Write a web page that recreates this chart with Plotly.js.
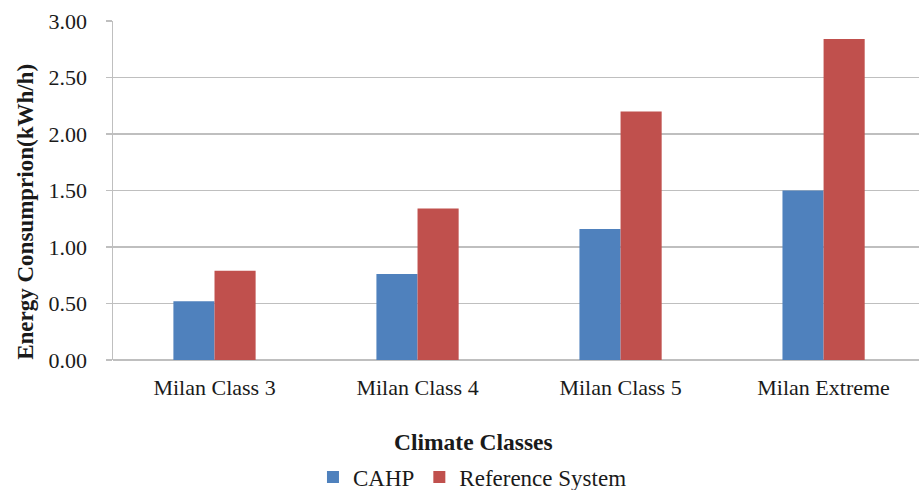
<!DOCTYPE html>
<html>
<head>
<meta charset="utf-8">
<script src="https://cdn.plot.ly/plotly-3.0.1.min.js"></script>
<style>
  html, body { margin: 0; padding: 0; background: #ffffff; }
  #chart { width: 919px; height: 490px; }
</style>
</head>
<body>
<div id="chart"></div>
<script>
// Climate classes and hourly energy consumption (kWh/h)
const categories = ["Milan Class 3", "Milan Class 4", "Milan Class 5", "Milan Extreme"];
const cahpValues = [0.52, 0.76, 1.16, 1.50];
const referenceValues = [0.79, 1.34, 2.20, 2.84];
const seriesNames = ["CAHP", "Reference System"];
const yTickValues = [0, 0.5, 1.0, 1.5, 2.0, 2.5, 3.0];
const yTickLabels = ["0.00", "0.50", "1.00", "1.50", "2.00", "2.50", "3.00"];

const serif = "Liberation Serif, Times New Roman, serif";
const ink = "#1a1a1a";
const gridGrey = "#bfbfbf";

const traces = [
  {
    type: "bar",
    name: seriesNames[0],
    x: categories,
    y: cahpValues,
    marker: { color: "#4f81bd" },
    hoverinfo: "x+y+name"
  },
  {
    type: "bar",
    name: seriesNames[1],
    x: categories,
    y: referenceValues,
    marker: { color: "#c0504d" },
    hoverinfo: "x+y+name"
  }
];

const layout = {
  width: 919,
  height: 490,
  margin: { l: 113, r: 0, t: 21, b: 130, pad: 0, autoexpand: false },
  paper_bgcolor: "#ffffff",
  plot_bgcolor: "#ffffff",
  barmode: "group",
  bargap: 0.595,
  bargroupgap: 0,
  font: { family: serif, color: ink, size: 22 },
  xaxis: {
    type: "category",
    range: [-0.5, 3.47],
    showgrid: false,
    showline: false,
    ticks: "",
    tickfont: { family: serif, size: 22, color: ink },
    ticklabelstandoff: 12,
    zeroline: false,
    automargin: false,
    fixedrange: true
  },
  yaxis: {
    range: [0, 3],
    tickvals: yTickValues,
    ticktext: yTickLabels,
    showgrid: true,
    gridcolor: gridGrey,
    gridwidth: 1.5,
    zeroline: true,
    zerolinecolor: gridGrey,
    zerolinewidth: 1.5,
    showline: true,
    linecolor: gridGrey,
    linewidth: 1.5,
    ticks: "outside",
    ticklen: 6,
    tickwidth: 1.5,
    tickcolor: gridGrey,
    ticklabelstandoff: 14,
    tickfont: { family: serif, size: 22, color: ink },
    automargin: false,
    fixedrange: true
  },
  showlegend: true,
  legend: {
    orientation: "h",
    x: 0.446,
    xanchor: "center",
    y: -0.345,
    yanchor: "middle",
    font: { family: serif, size: 23, color: ink },
    itemwidth: 30,
    bgcolor: "rgba(0,0,0,0)"
  },
  annotations: [
    {
      text: "<b>Energy Consumprion(kWh/h)</b>",
      xref: "paper", yref: "paper",
      x: -0.108, y: 0.437,
      xanchor: "center", yanchor: "middle",
      textangle: -90,
      showarrow: false,
      font: { family: serif, size: 23, color: ink }
    },
    {
      text: "<b>Climate Classes</b>",
      xref: "paper", yref: "paper",
      x: 0.447, y: -0.242,
      xanchor: "center", yanchor: "middle",
      showarrow: false,
      font: { family: serif, size: 23.5, color: ink }
    }
  ]
};

Plotly.newPlot("chart", traces, layout, { displayModeBar: false, staticPlot: true });
</script>
</body>
</html>
